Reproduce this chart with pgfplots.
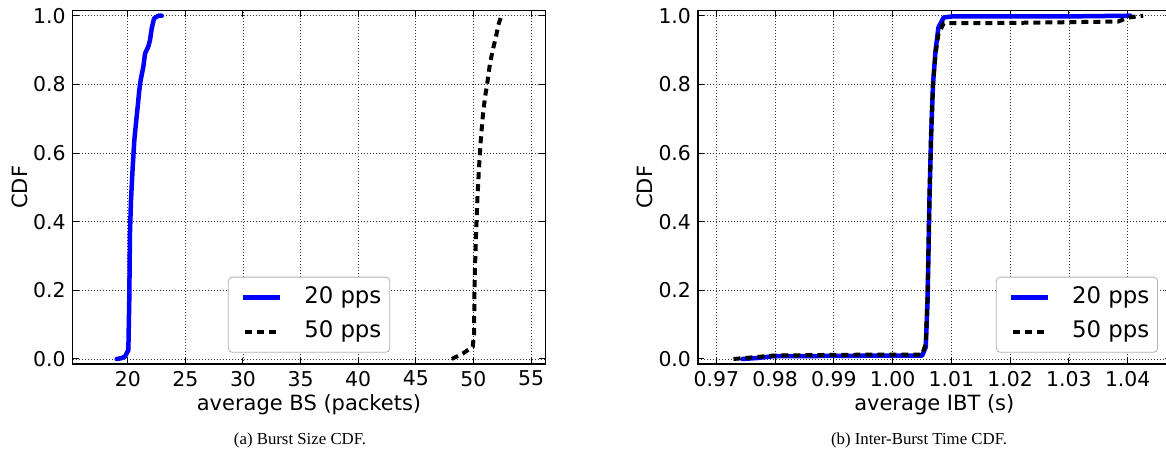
\documentclass[border=0pt]{standalone}
\usepackage{fontspec}
\setmainfont{DejaVu Sans}
\newfontfamily\capfont{Liberation Serif}
\usepackage{pgfplots}
\pgfplotsset{compat=1.18}

\pgfplotstableread{
x y
19.04 0.000
19.40 0.002
19.76 0.007
20.05 0.026
20.13 0.172
20.19 0.366
20.28 0.463
20.43 0.560
20.57 0.638
20.71 0.686
20.83 0.725
21.00 0.783
21.12 0.813
21.35 0.851
21.50 0.890
21.78 0.910
21.93 0.929
22.08 0.963
22.28 0.992
22.65 1.000
22.95 1.000
}\bsA

\pgfplotstableread{
x y
48.12 0.000
49.13 0.017
49.94 0.036
50.06 0.075
50.08 0.172
50.14 0.269
50.23 0.366
50.34 0.463
50.49 0.560
50.64 0.638
50.81 0.706
51.01 0.764
51.16 0.793
51.44 0.861
51.68 0.900
51.96 0.939
52.16 0.973
52.40 0.997
}\bsB

\pgfplotstableread{
x y
0.97446 0.000
0.9770 0.003
0.9797 0.008
0.9900 0.009
1.0000 0.010
1.00503 0.010
1.00564 0.035
1.00595 0.170
1.00626 0.460
1.00656 0.656
1.00687 0.800
1.00730 0.898
1.00780 0.966
1.00870 0.995
1.01022 0.998
1.0300 0.998
1.04048 1.000
}\ibtA

\pgfplotstableread{
x y
0.97293 0.000
0.9797 0.010
0.9900 0.012
1.0000 0.013
1.00503 0.013
1.00564 0.045
1.00595 0.190
1.00626 0.460
1.00656 0.656
1.00687 0.800
1.00730 0.888
1.00780 0.947
1.00870 0.978
1.0200 0.979
1.03834 0.983
1.0402 0.995
1.04263 1.000
}\ibtB

\pgfplotsset{
  cdfstyle/.style={
    scale only axis,
    width=236.3pt, height=176.65pt,
    ymin=-0.0146, ymax=1.0146,
    ytick={0,0.2,0.4,0.6,0.8,1.0},
    yticklabel style={/pgf/number format/.cd, fixed, fixed zerofill, precision=1},
    /pgf/number format/assume math mode=true,
    grid=major,
    grid style={black!80, line width=0.4pt, dash pattern=on 0.5pt off 1pt},
    axis line style={line width=0.6pt},
    tick style={black, line width=0.5pt},
    major tick length=3pt,
    tick align=inside,
    tick label style={font=\fontsize{10.2}{12}\selectfont},
    label style={font=\fontsize{10.5}{12}\selectfont},
    ylabel={CDF},
    ylabel style={at={(axis description cs:-0.112,0.5)}, anchor=center},
    xlabel style={at={(axis description cs:0.5,-0.116)}, anchor=center},
    legend style={font=\fontsize{11.4}{13}\selectfont,
      draw=black!30, rounded corners=2pt, fill=white,
      inner xsep=4.15pt, inner ysep=4.7pt,
      nodes={inner sep=0pt, text height=8.5pt, text depth=2.5pt},
      row sep=6.2pt,
      /tikz/every odd column/.append style={column sep=11pt}},
    legend cell align=left,
  },
  p20/.style={blue, line width=2.25pt, line join=round, line cap=round,
    legend image code/.code={%
      \path[draw=none, fill=none] (0pt,0pt) -- (21.7pt,0pt);
      \draw[blue, solid, sharp corners, line width=2.25pt, line cap=butt, fill=none] (3.2pt,0pt) -- (21.7pt,0pt);}},
  p50/.style={black, line width=2pt, dash pattern=on 3.5pt off 2.5pt,
    legend image code/.code={%
      \path[draw=none, fill=none] (0pt,0pt) -- (21.7pt,0pt);
      \draw[black, sharp corners, line width=2pt, line cap=butt, fill=none, dash pattern=on 3.4pt off 2.7pt] (4.2pt,0pt) -- (19.8pt,0pt);}},
}

\begin{document}
\begin{tikzpicture}
\begin{axis}[cdfstyle,
  at={(36.35pt,46.5pt)}, anchor=south west,
  xmin=15.22, xmax=56.24,
  xtick={20,25,30,35,40,45,50,55},
  xlabel={average BS (packets)},
  legend style={at={(axis description cs:0.5,0.032)}, anchor=south},
]
\addplot[p20] table[x=x,y=y] {\bsA};
\addlegendentry{20 pps}
\addplot[p50] table[x=x,y=y] {\bsB};
\addlegendentry{50 pps}
\end{axis}

\begin{axis}[cdfstyle,
  at={(349pt,46.5pt)}, anchor=south west,
  xmin=0.96689, xmax=1.0473,
  xtick={0.97,0.98,0.99,1.00,1.01,1.02,1.03,1.04},
  xticklabel style={/pgf/number format/.cd, fixed, fixed zerofill, precision=2},
  xlabel={average IBT (s)},
  legend style={at={(axis description cs:0.9733,0.032)}, anchor=south east},
]
\addplot[p20] table[x=x,y=y] {\ibtA};
\addlegendentry{20 pps}
\addplot[p50] table[x=x,y=y] {\ibtB};
\addlegendentry{50 pps}
\end{axis}

\node[font=\capfont\fontsize{8.4}{10}\selectfont] at (150pt,8.5pt) {(a) Burst Size CDF.};
\node[font=\capfont\fontsize{8.4}{10}\selectfont] at (459.5pt,8.5pt) {(b) Inter-Burst Time CDF.};

\pgfresetboundingbox
\useasboundingbox (0pt,0pt) rectangle (583pt,228.5pt);
\end{tikzpicture}
\end{document}
